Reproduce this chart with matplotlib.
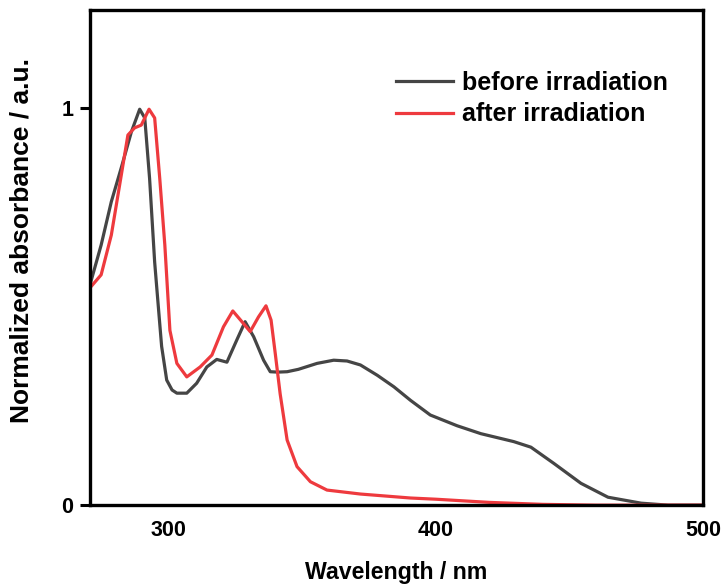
import matplotlib
matplotlib.use("Agg")
import matplotlib.pyplot as plt

plt.rcParams['font.family'] = ['Liberation Sans', 'DejaVu Sans']
plt.rcParams['font.weight'] = 'bold'

before_x = [270.8, 275.0, 278.8, 282.5, 286.3, 289.4, 291.3, 293.1, 295.0, 296.0, 297.6,
            299.5, 301.5, 303.3, 307.0, 310.7, 314.5, 318.2, 322.0, 325.7, 328.8, 332.0,
            335.7, 338.2, 341.0, 344.5, 348.7, 355.7, 361.9, 366.9, 371.9, 378.2, 384.4,
            390.6, 398.0, 408.0, 416.9, 429.2, 435.6, 444.2, 454.3, 464.4, 476.8, 486.9,
            500.0]
before_y = [0.554, 0.655, 0.764, 0.849, 0.94, 0.997, 0.975, 0.823, 0.612, 0.53, 0.40,
            0.315, 0.29, 0.282, 0.282, 0.307, 0.348, 0.367, 0.36, 0.416, 0.462, 0.424,
            0.365, 0.336, 0.335, 0.336, 0.342, 0.357, 0.365, 0.363, 0.353, 0.327, 0.298,
            0.264, 0.227, 0.20, 0.18, 0.16, 0.146, 0.105, 0.055, 0.02, 0.005, 0.0,
            0.0]

after_x = [270.8, 275.0, 278.8, 282.5, 285.0, 287.5, 290.0, 292.9, 295.0, 296.9, 298.8,
           300.7, 303.3, 307.0, 312.0, 316.4, 320.7, 324.2, 327.6, 330.7, 333.8, 336.6,
           338.5, 340.1, 341.9, 344.5, 348.2, 353.2, 359.4, 371.9, 390.6, 400.0, 420.0,
           440.0, 460.0, 500.0]
after_y = [0.547, 0.58, 0.68, 0.83, 0.932, 0.95, 0.957, 0.997, 0.975, 0.823, 0.655,
           0.44, 0.357, 0.323, 0.348, 0.378, 0.449, 0.489, 0.462, 0.437, 0.474, 0.502,
           0.466, 0.38, 0.28, 0.164, 0.097, 0.059, 0.038, 0.028, 0.018, 0.015, 0.007,
           0.002, 0.0, 0.0]

labels = ['before irradiation', 'after irradiation']
colors = ['#454545', '#ee3a3e']

fig = plt.figure(figsize=(7.25, 5.84), dpi=100)
ax = fig.add_axes([0.124, 0.135, 0.846, 0.848])
ax.plot(before_x, before_y, color=colors[0], lw=2.3, label=labels[0])
ax.plot(after_x, after_y, color=colors[1], lw=2.3, label=labels[1])

ax.set_xlim(270.8, 500)
ax.set_ylim(0, 1.247)
ax.set_xticks([300, 400, 500])
ax.set_yticks([0, 1])
ax.tick_params(axis='x', direction='out', length=0, pad=11, labelsize=15.5)
ax.tick_params(axis='y', direction='out', width=2.2, length=7, pad=5, labelsize=15.5)
for lab in ax.get_xticklabels() + ax.get_yticklabels():
    lab.set_fontweight('bold')
for s in ax.spines.values():
    s.set_linewidth(2.4)

ax.set_xlabel('Wavelength / nm', fontsize=16.7, fontweight='bold', labelpad=14)
ax.set_ylabel('Normalized absorbance / a.u.', fontsize=19, fontweight='bold')
ax.yaxis.set_label_coords(-0.092, 0.535)

leg = ax.legend(loc='upper right', bbox_to_anchor=(0.943, 0.877), frameon=False,
                prop={'size': 18, 'weight': 'bold'}, handlelength=2.3, handletextpad=0.36,
                labelspacing=0.3, borderpad=0, borderaxespad=0)

fig.savefig('out.png', dpi=100)
